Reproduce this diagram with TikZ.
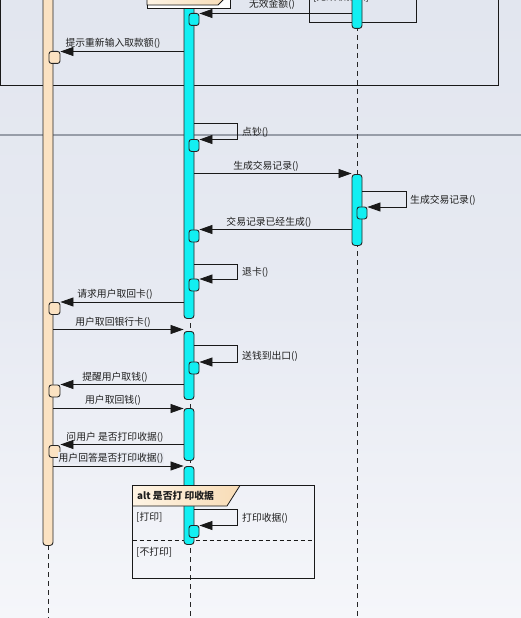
\documentclass[tikz,border=0pt]{standalone}
\usepackage{fontspec}
\newfontfamily\cjk{Noto Sans CJK SC}
\usetikzlibrary{arrows.meta,calc}
\definecolor{bgtop}{HTML}{E2E6EF}
\definecolor{bgmid}{HTML}{E7EAF2}
\definecolor{bgbot}{HTML}{F5F6FA}
\definecolor{cyanbar}{HTML}{12EFF2}
\definecolor{beige}{HTML}{FBE2C2}
\definecolor{beigeL}{HTML}{FEF4E4}
\definecolor{beigeR}{HTML}{F8DCB6}
\definecolor{sepgray}{HTML}{979DA8}
\definecolor{txt}{HTML}{1E1E1E}
\begin{document}
\begin{tikzpicture}[x=1pt,y=-1pt,
  life/.style={draw=black!85,line width=0.8pt,dash pattern=on 5pt off 4pt},
  actC/.style={draw=black!85,line width=0.9pt,fill=cyanbar,rounded corners=3pt,minimum width=10pt,inner sep=0pt,anchor=north},
  actB/.style={draw=black!85,line width=0.9pt,fill=beige,rounded corners=3pt,minimum width=10pt,inner sep=0pt,anchor=north},
  boxC/.style={actC,minimum width=10pt,minimum height=12pt,rounded corners=2.5pt},
  boxB/.style={actB,minimum width=11pt,minimum height=12pt,rounded corners=2.5pt},
  msg/.style={draw=black!90,line width=0.8pt,-{Triangle[length=13pt,width=9pt]}},
  frame/.style={draw=black!90,line width=1pt},
  lbl/.style={font=\cjk\fontsize{9.8}{11}\selectfont,text=txt,inner sep=0pt},
  lblL/.style={lbl,anchor=west}
]
\useasboundingbox (0,0) rectangle (521,618);
\clip (0,0) rectangle (521,618);
% background
\shade[top color=bgtop,bottom color=bgbot,middle color=bgmid] (0,0) rectangle (521,618);
% separator line
\draw[sepgray,line width=2pt] (0,135) -- (521,135);
% top frame and box
\draw[frame] (0.5,-20) rectangle (498,85);
\draw[frame] (309,-20) rectangle (416,23);
\node[lblL] (g0) at (313,-3) {[无效取款额]};
% lifelines (dashed)
\draw[life] (190,-10) -- (190,618);
\draw[life] (357,-10) -- (357,618);
\draw[life] (48,545) -- (48,618);
% alt frame (behind bars)
\draw[frame] (132.5,485.5) rectangle (314,578);
\draw[black!90,line width=0.8pt,dash pattern=on 4pt off 3pt] (132.5,540) -- (314,540);
\node[lblL] (gp) at (136,517.5) {[打印]};
\node[lblL] (gn) at (136,552.5) {[不打印]};
% user lifeline bar
\node[actB,minimum height=555pt] (U) at (48,-10) {};
% ATM bars
\node[actC,minimum height=328pt] (b1) at (189,-10) {};
\node[actC,minimum height=68pt] (b2) at (189,331) {};
\node[actC,minimum height=52pt] (b3) at (189,408) {};
\node[actC,minimum height=78pt] (b4) at (189,466) {};
% record bars
\node[actC,minimum height=38pt] (r0) at (357,-10) {};
\node[actC,minimum height=71pt] (r1) at (357,174) {};
% alt label pentagon (over bar)
\draw[draw=black!90,line width=0.8pt,left color=beigeL,right color=beigeR] (132.5,485.5) -- (240,485.5) -- (227,506) -- (132.5,506) -- cycle;
\node[lblL,font=\cjk\bfseries\fontsize{9.8}{11}\selectfont] (altl) at (137,495.5) {alt 是否打 印收据};
% top middle fragment (over bar)
\draw[frame,fill=white!96!bgtop] (147,-20) rectangle (230,9);
\draw[draw=black!90,line width=0.8pt,left color=beigeL,right color=beigeR] (147,-20) -- (230,-20) -- (230,-7) -- (218,5) -- (147,5) -- cycle;
% small activation boxes
\node[boxC] (ma) at (194,13) {};
\node[boxC] (mb) at (194,139) {};
\node[boxC] (mc) at (194,229.5) {};
\node[boxC] (md) at (194,278.5) {};
\node[boxC] (me) at (194,361.5) {};
\node[boxC] (mf) at (194,525) {};
\node[boxC] (ra) at (362,206.5) {};
\node[boxB] (ua) at (54.5,51) {};
\node[boxB] (ub) at (54.5,302) {};
\node[boxB] (uc) at (54.5,384.5) {};
\node[boxB] (ud) at (54.5,445) {};
% messages
\draw[msg] (r0.west |- 0,13.5) -- (ma.east |- 0,13.5);
\node[lbl] (t1) at (272,4.5) {无效金额()};
\draw[msg] (b1.west |- 0,51.5) -- (ua.east |- 0,51.5);
\node[lbl] (t2) at (113,43) {提示重新输入取款额()};
\draw[msg] (b1.east |- 0,123.5) -- (237,123.5) -- (237,139.5) -- (mb.east |- 0,139.5);
\node[lblL] (t3) at (242,132) {点钞()};
\draw[msg] (b1.east |- 0,173.5) -- (r1.west |- 0,173.5);
\node[lbl] (t4) at (266,166) {生成交易记录()};
\draw[msg] (r1.east |- 0,191.5) -- (406,191.5) -- (406,207) -- (ra.east |- 0,207);
\node[lblL] (t5) at (410,200) {生成交易记录()};
\draw[msg] (r1.west |- 0,229.5) -- (mc.east |- 0,229.5);
\node[lbl] (t6) at (269,222) {交易记录已经生成()};
\draw[msg] (b1.east |- 0,264) -- (237,264) -- (237,279) -- (md.east |- 0,279);
\node[lblL] (t7) at (242,272.5) {退卡()};
\draw[msg] (b1.west |- 0,302) -- (ub.east |- 0,302);
\node[lbl] (t8) at (115,294.5) {请求用户取回卡()};
\draw[msg] (U.east |- 0,329.5) -- (b2.west |- 0,329.5);
\node[lbl] (t9) at (113,322) {用户取回银行卡()};
\draw[msg] (b2.east |- 0,345.5) -- (237,345.5) -- (237,362) -- (me.east |- 0,362);
\node[lblL] (t10) at (242,356) {送钱到出口()};
\draw[msg] (b2.west |- 0,384.5) -- (uc.east |- 0,384.5);
\node[lbl] (t11) at (115,377) {提醒用户取钱()};
\draw[msg] (U.east |- 0,408.5) -- (b3.west |- 0,408.5);
\node[lbl] (t12) at (113,400.5) {用户取回钱()};
\draw[msg] (b3.west |- 0,444.5) -- (ud.east |- 0,444.5);
\node[lbl] (t13) at (115,437) {问用户 是否打印收据()};
\draw[msg] (U.east |- 0,466) -- (b4.west |- 0,466);
\node[lbl,fill=bgmid,inner sep=0.5pt] (t14) at (111,458) {用户回答是否打印收据()};
\draw[msg] (b4.east |- 0,509.5) -- (237,509.5) -- (237,525.5) -- (mf.east |- 0,525.5);
\node[lblL] (t15) at (242,518) {打印收据()};
\end{tikzpicture}
\end{document}
